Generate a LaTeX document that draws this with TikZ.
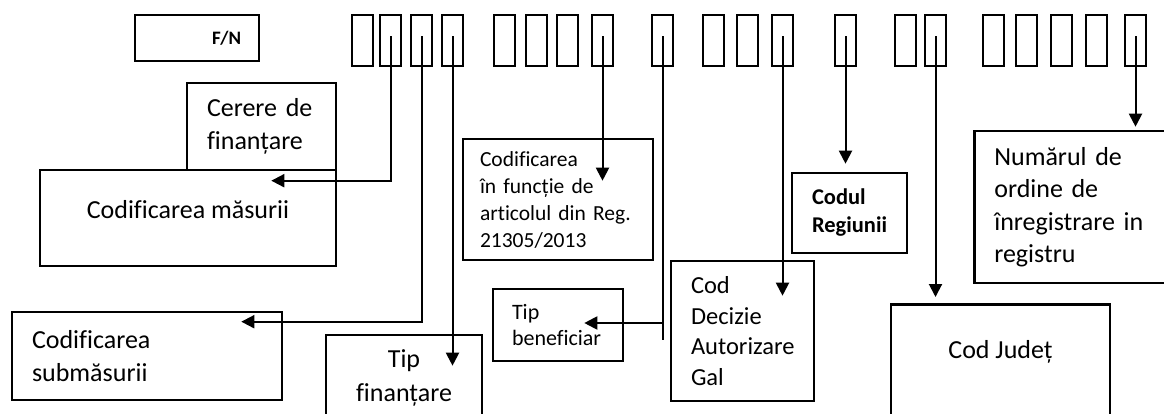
\documentclass[tikz,border=0pt]{standalone}
\usepackage{fontspec}
\setmainfont{Carlito}[Ligatures=NoCommon]
\usetikzlibrary{arrows.meta, calc}

\begin{document}
\begin{tikzpicture}[
    x=1pt, y=-1pt,
    box/.style={rectangle, draw, line width=2.6pt, inner sep=0pt,
                font=\fontsize{26}{33.5}\selectfont},
    note/.style={box, align=left, inner xsep=20pt},
    cell/.style={rectangle, draw, line width=2.4pt,
                 minimum width=21pt, minimum height=51pt, inner sep=0pt},
    link/.style={line width=2pt},
    arrow/.style={link, -{Triangle[width=13pt,length=13pt]}}
]
\useasboundingbox (0,0) rectangle (1164,414);
\clip (0,0) rectangle (1164,414);

% code cells along the top
\node[box, minimum width=124pt, minimum height=46pt, text width=88pt,
      align=right, inner xsep=18pt,
      font=\bfseries\fontsize{19}{23}\selectfont] (fn) at (197,38) {F/N};
\foreach \i/\x in {1/362.5, 2/390.5, 3/421.5, 4/452.5,
                   5/504.5, 6/536.5, 7/567.5, 8/602.5,
                   9/662.5,
                   10/713.5, 11/747.5, 12/782.5,
                   13/845.5,
                   14/905.5, 15/935.5,
                   16/993.5, 17/1026.5, 18/1061.5, 19/1096.5, 20/1135.5}
    \node[cell] (c\i) at (\x,40.5) {};

% explanation boxes
\node[box, minimum width=296pt, minimum height=96pt, text depth=18pt] (masura) at (188,218) {Codificarea măsurii};
\node[note, text width=109pt, minimum height=87pt] (cerere) at (261.5,126.5) {Cerere de\\finanțare};
\node[note, text width=230pt, minimum height=88pt] (submasura) at (147,356) {Codificarea\\submăsurii};
\node[box, align=center, minimum width=156pt, minimum height=86pt] (finantare) at (404,378) {Tip\\finanțare};
\node[note, text width=156pt, inner xsep=17pt, minimum height=121pt,
      font=\fontsize{21.5}{27}\selectfont] (articol) at (558,199.5) {Codificarea\\în funcție de\\articolul din Reg.\\21305/2013};
\node[note, text width=92pt, inner xsep=19pt, minimum height=72pt,
      font=\fontsize{22}{26}\selectfont] (benef) at (558,325) {Tip\\beneficiar};
\node[note, text width=103pt, minimum height=140pt,
      font=\fontsize{24.5}{30.5}\selectfont] (decizie) at (742.5,331) {Cod\\Decizie\\Autorizare\\Gal};
\node[note, text width=75pt, minimum height=80pt,
      font=\bfseries\fontsize{22.5}{28}\selectfont] (regiune) at (849.5,213) {Codul\\Regiunii};
\node[note, anchor=west, text width=200pt, minimum height=152pt,
      font=\fontsize{26}{32.5}\selectfont] (ordine) at (973,207) {Numărul de\\ordine de\\înregistrare in\\registru};
\node[box, anchor=north, minimum width=219pt, text height=54pt, text depth=90pt] (judet) at (1000.5,303) {Cod Județ};

% connectors
\draw[arrow] ([yshift=4pt]c2.center) |- ($(masura.north east)+(-66pt,-12pt)$);
\draw[arrow] ([yshift=4pt]c3.center) |- ($(submasura.north east)+(-42pt,-11pt)$);
\draw[link] ([yshift=4pt]c9.center) -- ($(c9.center |- benef.east)+(0,-15pt)$);
\draw[arrow] ([yshift=2pt]c9.center |- benef.east) -- ([xshift=-40pt,yshift=2pt]benef.east);
\foreach \a/\b/\d in {c4/finantare/-32pt, c8/articol/-43pt, c12/decizie/-36pt,
                      c13/regiune/8pt, c15/judet/6pt, c20/ordine/3pt}
    \draw[arrow] ([yshift=4pt]\a.center) -- ($(\a.center |- \b.north)+(0,\d)$);
\end{tikzpicture}
\end{document}
